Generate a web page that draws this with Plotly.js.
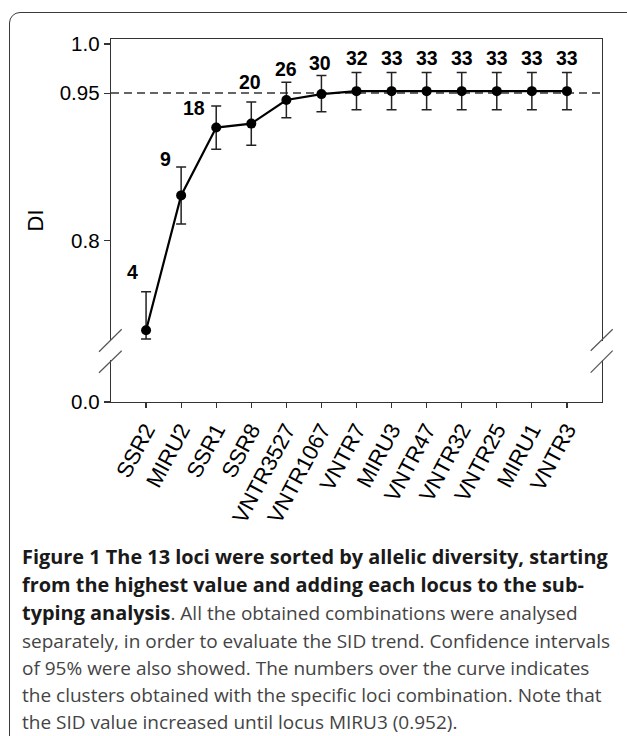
<!DOCTYPE html>
<html>
<head>
<meta charset="utf-8">
<script src="https://cdn.plot.ly/plotly-3.0.1.min.js"></script>
<style>
  html, body { margin: 0; padding: 0; background: #fff; }
  body { width: 627px; height: 736px; position: relative; overflow: hidden; }
  #frame { position: absolute; left: 9px; top: 12px; width: 700px; height: 800px;
           border: 1.5px solid #3a3a3a; border-radius: 11px; box-sizing: border-box; }
  #chart { position: absolute; left: 0; top: 0; width: 627px; height: 736px; }
  #caption { position: absolute; left: 22px; top: 543px; width: 620px;
             font-family: "Open Sans", "Noto Sans", sans-serif; font-size: 19px;
             line-height: 27.2px; color: #444; }
  #caption .ln { white-space: nowrap; }
  #caption b { color: #1a1a1a; font-weight: 700; font-size: 19.9px; }
</style>
</head>
<body>
<div id="frame"></div>
<div id="chart"></div>
<div id="caption"></div>
<script>
// ---------------- data ----------------
const loci = ['SSR2', 'MIRU2', 'SSR1', 'SSR8', 'VNTR3527', 'VNTR1067', 'VNTR7',
              'MIRU3', 'VNTR47', 'VNTR32', 'VNTR25', 'MIRU1', 'VNTR3'];
const diversityIndex = [0.709, 0.846, 0.915, 0.919, 0.943, 0.949, 0.952,
                        0.952, 0.952, 0.952, 0.952, 0.952, 0.952];
const ciUpper = [0.039, 0.029, 0.022, 0.022, 0.018, 0.019, 0.019,
                 0.019, 0.019, 0.019, 0.019, 0.019, 0.019];
const ciLower = [0.009, 0.029, 0.022, 0.022, 0.018, 0.018, 0.019,
                 0.019, 0.019, 0.019, 0.019, 0.019, 0.019];
const clusters = [4, 9, 18, 20, 26, 30, 32, 33, 33, 33, 33, 33, 33];
const threshold = 0.95;
const yTickValues = [0.8, 0.95, 1.0];
const yTickLabels = ['0.8', '0.95', '1.0'];
const brokenAxisFloor = 0.636;      // where the "0.0" label of the broken axis sits
const brokenAxisFloorLabel = '0.0';
const yTop = 1.005;

const captionBold = ['Figure 1 The 13 loci were sorted by allelic diversity, starting',
                     'from the highest value and adding each locus to the sub-',
                     'typing analysis'];
const captionRest = ['. All the obtained combinations were analysed',
                     'separately, in order to evaluate the SID trend. Confidence intervals',
                     'of 95% were also showed. The numbers over the curve indicates',
                     'the clusters obtained with the specific loci combination. Note that',
                     'the SID value increased until locus MIRU3 (0.952).'];

// ---------------- layout helpers ----------------
const M = {l: 111, r: 25, t: 39, b: 334};
const W = 627, H = 736;
const PW = W - M.l - M.r, PH = H - M.t - M.b;
const px = x => (x - M.l) / PW;          // pixel -> paper x
const py = y => (H - M.b - y) / PH;      // pixel -> paper y

// label offsets (px) for the cluster numbers, relative to the top of each CI bar
const labelShift = [[-14, 20], [-16, 8], [-22, -2], [-1, 20], [0, 13], [-1, 12.5],
                    [0, 14], [0, 14], [0, 14], [0, 14], [0, 14], [0, 14], [0, 14]];

const font = 'Liberation Sans, Arial, sans-serif';

const annotations = clusters.map((c, i) => ({
  x: loci[i], y: diversityIndex[i] + ciUpper[i], xref: 'x', yref: 'y',
  text: '<b>' + c + '</b>', showarrow: false,
  xshift: labelShift[i][0], yshift: labelShift[i][1],
  xanchor: 'center', yanchor: 'middle',
  font: {family: font, size: 19.5, color: '#000'}
}));

function slash(x0, y0, x1, y1) {
  return {type: 'line', xref: 'paper', yref: 'paper', x0: px(x0), y0: py(y0), x1: px(x1), y1: py(y1),
          line: {color: '#555', width: 1.2}, layer: 'above'};
}
function gap(x0, x1, y0, y1) {
  return {type: 'rect', xref: 'paper', yref: 'paper', x0: px(x0), x1: px(x1), y0: py(y0), y1: py(y1),
          fillcolor: '#fff', line: {width: 0}, layer: 'above'};
}

const shapes = [
  {type: 'line', xref: 'paper', yref: 'y', x0: 0, x1: 1, y0: threshold, y1: threshold,
   line: {color: '#333', width: 1.5, dash: '8px,5px'}, layer: 'below'},
  gap(107, 115, 341, 360),
  gap(598, 606, 341, 360),
  slash(99, 351.7, 121.7, 329.3),
  slash(99, 372.7, 121.7, 350.7),
  slash(590.7, 350.7, 612.7, 329.3),
  slash(590.7, 372.7, 612.7, 350.7)
];

const trace = {
  x: loci, y: diversityIndex, type: 'scatter', mode: 'lines+markers',
  line: {color: '#000', width: 2.2},
  marker: {color: '#000', size: 10},
  error_y: {type: 'data', symmetric: false, array: ciUpper, arrayminus: ciLower,
            color: '#222', thickness: 1.5, width: 5},
  hoverinfo: 'skip', showlegend: false
};

const layout = {
  width: W, height: H, margin: M,
  paper_bgcolor: 'rgba(0,0,0,0)', plot_bgcolor: 'rgba(0,0,0,0)',
  font: {family: font, size: 20, color: '#000'},
  showlegend: false,
  xaxis: {
    type: 'category', range: [-1, loci.length], showgrid: false, zeroline: false,
    showline: true, linecolor: '#333', linewidth: 1.3, mirror: true,
    ticks: 'outside', ticklen: 5, tickcolor: '#333', tickwidth: 1.2,
    tickangle: -62, tickfont: {family: font, size: 22, color: '#000'}
  },
  yaxis: {
    range: [brokenAxisFloor, yTop], showgrid: false, zeroline: false,
    showline: true, linecolor: '#333', linewidth: 1.3, mirror: true,
    ticks: 'outside', ticklen: 6, tickcolor: '#333', tickwidth: 1.2,
    tickvals: [brokenAxisFloor].concat(yTickValues),
    ticktext: [brokenAxisFloorLabel].concat(yTickLabels),
    tickfont: {family: font, size: 20.5, color: '#000'},
    title: {text: 'DI', font: {family: font, size: 22, color: '#000'}, standoff: 10}
  },
  shapes: shapes,
  annotations: annotations
};

Plotly.newPlot('chart', [trace], layout, {displayModeBar: false, staticPlot: true});

// ---------------- caption ----------------
const cap = document.getElementById('caption');
const lines = [];
lines.push('<b>' + captionBold[0] + '</b>');
lines.push('<b>' + captionBold[1] + '</b>');
lines.push('<b>' + captionBold[2] + '</b>' + captionRest[0]);
for (let i = 1; i < captionRest.length; i++) lines.push(captionRest[i]);
cap.innerHTML = lines.map(l => '<div class="ln">' + l + '</div>').join('');
</script>
</body>
</html>
